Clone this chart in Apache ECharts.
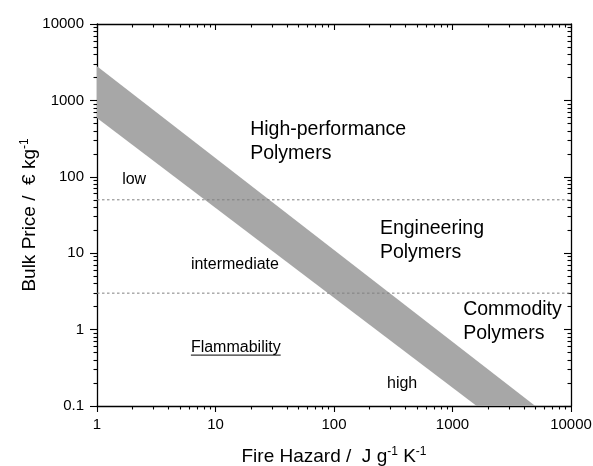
<!DOCTYPE html>
<html>
<head>
<meta charset="utf-8">
<script src="https://cdn.jsdelivr.net/npm/echarts@6/dist/echarts.min.js"></script>
<style>html,body{margin:0;padding:0;background:#fff}#c{width:593px;height:466px}</style>
</head>
<body>
<div id="c"></div>
<script>
// ---- data ----
const xTicks = [1, 10, 100, 1000, 10000];
const yTicks = [0.1, 1, 10, 100, 1000, 10000];
// band polygon: upper edge (1 -> 5000), lower edge (1600 -> 1)
const bandPolygon = [[1, 2800], [5000, 0.1], [1600, 0.1], [1, 590]];
const thresholds = [50, 3];
const regionLabels = [
  {text: 'High-performance\nPolymers', pos: [19.6, 293]},
  {text: 'Engineering\nPolymers', pos: [244, 14.4]},
  {text: 'Commodity\nPolymers', pos: [1230, 1.28]}
];
const flamLabels = [
  {text: 'low', pos: [1.63, 93]},
  {text: 'intermediate', pos: [6.2, 7.0]},
  {text: 'Flammability', pos: [6.2, 0.59], underline: true},
  {text: 'high', pos: [280, 0.194]}
];

// ---- helpers ----
function minorValues(lo, hi) {
  const out = [];
  for (let d = lo; d < hi; d *= 10) {
    for (let k = 2; k <= 9; k++) out.push(+(k * d).toPrecision(6));
  }
  return out;
}
const FONT = "'Liberation Sans', Arial, Helvetica, sans-serif";

const chart = echarts.init(document.getElementById('c'), null, {renderer: 'canvas'});
const axisLine = {show: true, lineStyle: {color: '#000', width: 1.3}};
const xMin = 1, xMax = 10000, yMin = 0.1, yMax = 10000;

function xAx(pos, major, inside, labels) {
  return {
    type: 'log', logBase: 10, min: xMin, max: xMax, position: pos,
    axisLine: major ? axisLine : {show: false},
    axisTick: {show: true, inside: inside, length: major ? 6 : 3.5,
      lineStyle: {color: '#000', width: 1.1},
      customValues: major ? xTicks : minorValues(xMin, xMax)},
    axisLabel: labels ? {show: true, customValues: xTicks, formatter: v => String(v),
      color: '#000', fontSize: 15, fontFamily: FONT, margin: 11} : {show: false},
    splitLine: {show: false}
  };
}
function yAx(pos, major, inside, labels) {
  return {
    type: 'log', logBase: 10, min: yMin, max: yMax, position: pos,
    axisLine: major ? axisLine : {show: false},
    axisTick: {show: true, inside: inside, length: major ? 7 : 3.5,
      lineStyle: {color: '#000', width: 1.1},
      customValues: major ? yTicks : minorValues(yMin, yMax)},
    axisLabel: labels ? {show: true, customValues: yTicks, formatter: v => String(v),
      color: '#000', fontSize: 15, fontFamily: FONT, margin: 13} : {show: false},
    splitLine: {show: false}
  };
}

const xAxes = [xAx('bottom', true, false, true), xAx('bottom', false, false, false),
               xAx('top', true, true, false), xAx('top', false, true, false)];
const yAxes = [yAx('left', true, false, true), yAx('left', false, false, false),
               yAx('right', true, true, false), yAx('right', false, true, false)];
const nameRich = {a: {fontSize: 19, fontFamily: FONT, color: '#000'},
                  b: {fontSize: 12, fontFamily: FONT, color: '#000', padding: [0, 0, 10, 0]}};
Object.assign(xAxes[0], {
  name: '{a|Fire Hazard /  J g}{b|-1}{a| K}{b|-1}', nameLocation: 'middle', nameGap: 40,
  nameMoveOverlap: false,
  nameTextStyle: {rich: nameRich}
});
Object.assign(yAxes[0], {
  name: '{a|Bulk Price /  € kg}{b|-1}', nameLocation: 'middle', nameGap: 56, nameRotate: 90,
  nameMoveOverlap: false,
  nameTextStyle: {rich: nameRich}
});

const series = [
  {
    type: 'custom', xAxisIndex: 0, yAxisIndex: 0, silent: true,
    data: bandPolygon, encode: {x: 0, y: 1},
    renderItem: function (params, api) {
      if (params.dataIndex !== 0) return null;
      const pts = bandPolygon.map(p => api.coord(p));
      return {type: 'polygon', shape: {points: pts},
        style: {fill: '#a7a7a7', stroke: null}};
    },
    z: 2
  }
];
thresholds.forEach(t => series.push({
  type: 'line', xAxisIndex: 0, yAxisIndex: 0, symbol: 'none', silent: true,
  data: [[xMin, t], [xMax, t]],
  lineStyle: {color: '#808080', width: 1, type: [2.5, 2.5]}, z: 3
}));
function labelSeries(list, size, lh) {
  const lbl = {show: true, position: 'right', distance: 0, align: 'left',
    fontSize: size, lineHeight: lh, fontFamily: FONT, color: '#000', opacity: 1};
  return {
    type: 'scatter', xAxisIndex: 0, yAxisIndex: 0, symbolSize: 0, silent: true,
    itemStyle: {opacity: 1},
    data: list.map(l => ({value: l.pos, label: Object.assign({}, lbl, {formatter: l.text})})),
    label: lbl,
    emphasis: {disabled: true},
    z: 5
  };
}
series.push(labelSeries(regionLabels, 19.5, 24));
series.push(labelSeries(flamLabels, 16, 18));

chart.setOption({
  backgroundColor: '#fff',
  animation: false,
  grid: {left: 97, right: 22, top: 24, bottom: 60, outerBoundsMode: 'none', containLabel: false},
  xAxis: xAxes,
  yAxis: yAxes,
  series: series
});

// underline for labels flagged underline
const ctx = document.createElement('canvas').getContext('2d');
ctx.font = "16px " + FONT;
const graphics = [];
flamLabels.filter(l => l.underline).forEach(l => {
  const p = chart.convertToPixel({xAxisIndex: 0, yAxisIndex: 0}, l.pos);
  const w = ctx.measureText(l.text).width;
  graphics.push({type: 'line', shape: {x1: p[0], y1: p[1] + 8, x2: p[0] + w, y2: p[1] + 8},
    style: {stroke: '#000', lineWidth: 1}, z: 10});
});
chart.setOption({graphic: graphics});
</script>
</body>
</html>
